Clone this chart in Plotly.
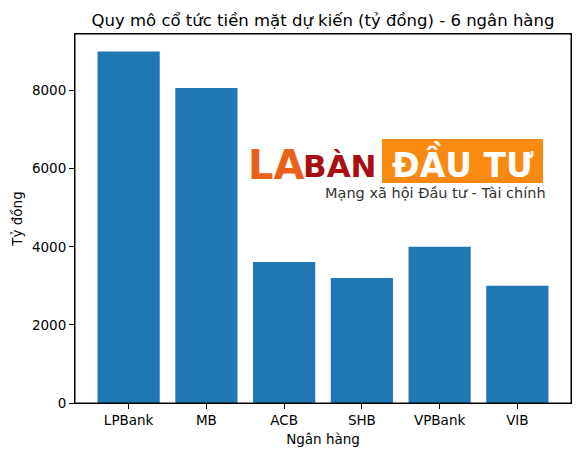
import plotly.graph_objects as go

banks = ["LPBank", "MB", "ACB", "SHB", "VPBank", "VIB"]
dividends = [9000, 8070, 3610, 3200, 4000, 3000]
y_ticks = [0, 2000, 4000, 6000, 8000]

title = "Quy mô cổ tức tiền mặt dự kiến (tỷ đồng) - 6 ngân hàng"
x_label = "Ngân hàng"
y_label = "Tỷ đồng"

fig = go.Figure(go.Bar(x=list(range(len(banks))), y=dividends,
                       marker=dict(color="#1f77b4", line=dict(width=0)),
                       width=0.8))

font = "DejaVu Sans, sans-serif"
L, R, T, B = 75, 10, 34, 54
W, H = 581, 457
pw, ph = W - L - R, H - T - B

fig.update_layout(
    width=W, height=H,
    margin=dict(l=L, r=R, t=T, b=B),
    plot_bgcolor="white", paper_bgcolor="white",
    font=dict(family=font, size=13.5, color="black"),
    title=dict(text=title, x=(L + pw / 2) / W, xanchor="center", y=1 - 20 / H, yanchor="middle",
               font=dict(size=16.5, family=font, color="black")),
    showlegend=False,
)
fig.update_xaxes(range=[-0.69, 5.69], tickvals=list(range(len(banks))), ticktext=banks,
                 showline=True, linecolor="black", linewidth=1, mirror=True,
                 ticks="outside", ticklen=5, tickwidth=1, tickcolor="black",
                 showgrid=False, zeroline=False,
                 title=dict(text=x_label, standoff=7, font=dict(size=13.5)))
fig.update_yaxes(range=[0, 9450], tickvals=y_ticks, ticktext=[str(v) for v in y_ticks],
                 showline=True, linecolor="black", linewidth=1, mirror=True,
                 ticks="outside", ticklen=5, tickwidth=1, tickcolor="black",
                 showgrid=False, zeroline=False,
                 title=dict(text=y_label, standoff=6, font=dict(size=13.5)))

# frame
fig.add_shape(type="rect", xref="paper", yref="paper", x0=0, x1=1, y0=0, y1=1,
              line=dict(color="black", width=1), fillcolor="rgba(0,0,0,0)", layer="above")

def px(x):
    return (x - L) / pw

def py(y):
    return (H - B - y) / ph

# watermark logo approximation
fig.add_shape(type="rect", xref="paper", yref="paper",
              x0=px(382), x1=px(543), y0=py(183), y1=py(139),
              fillcolor="#f98a0f", line=dict(width=0), layer="above")
fig.add_annotation(xref="paper", yref="paper", x=px(463), y=py(163),
                   xanchor="center", yanchor="middle",
                   text="<b>ĐẦU TƯ</b>", showarrow=False,
                   font=dict(family=font, size=33, color="white"))
fig.add_annotation(xref="paper", yref="paper", x=px(276), y=py(165),
                   xanchor="center", yanchor="middle",
                   text="<b>LA</b>", showarrow=False,
                   font=dict(family=font, size=40, color="#e8601a"))
fig.add_annotation(xref="paper", yref="paper", x=px(340), y=py(166),
                   xanchor="center", yanchor="middle",
                   text="<b>BÀN</b>", showarrow=False,
                   font=dict(family=font, size=31, color="#a80f12"))
fig.add_annotation(xref="paper", yref="paper", x=px(435), y=py(193),
                   xanchor="center", yanchor="middle",
                   text="Mạng xã hội Đầu tư - Tài chính", showarrow=False,
                   font=dict(family=font, size=14.5, color="#333333"))

fig.write_html("out.html", config={"displayModeBar": False},
               post_script="document.body.style.margin='0';")
